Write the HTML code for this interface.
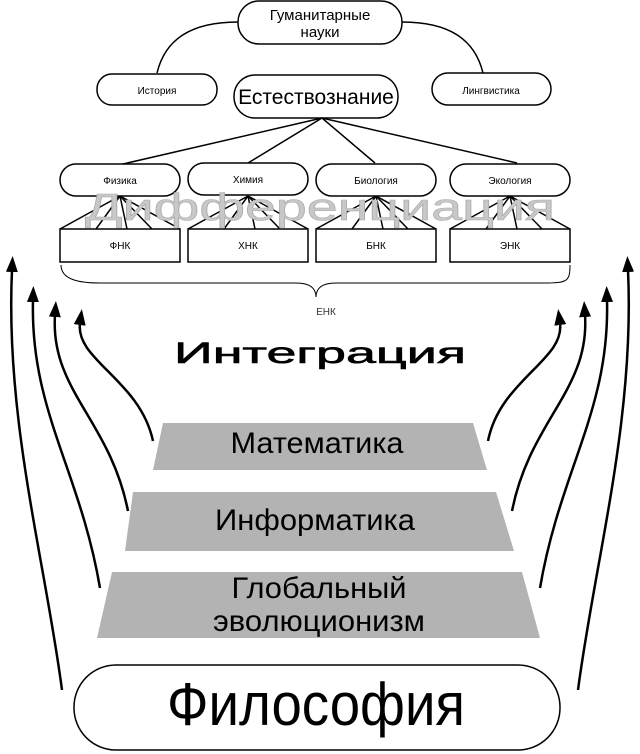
<!DOCTYPE html>
<html><head><meta charset="utf-8"><style>
body{margin:0;background:#fff}
svg{display:block;font-family:"Liberation Sans",sans-serif}
</style></head><body>
<svg width="640" height="754" viewBox="0 0 640 754" xmlns="http://www.w3.org/2000/svg">
<defs>
<marker id="a" markerWidth="16" markerHeight="16" refX="2" refY="8" orient="auto" markerUnits="userSpaceOnUse"><path d="M0,2 L16,8 L0,14 z" fill="#000"/></marker></defs>
<g fill="none" stroke="#000" stroke-width="1.5">
<path d="M238,22 C190,22 165,40 157,73"/>
<path d="M402,22 C450,22 475,40 483,73"/>
<path d="M322,118 L123,164 M322,118 L248,163 M322,118 L375,163 M322,118 L517,163"/>
<rect x="238" y="1" width="164" height="43" rx="21"/>
<rect x="97" y="74" width="120" height="31" rx="15"/>
<rect x="234" y="75" width="164" height="43" rx="21"/>
<rect x="432" y="73" width="119" height="32" rx="16"/>
<rect x="60" y="164" width="120" height="32" rx="16"/>
<rect x="188" y="163" width="120" height="32" rx="16"/>
<rect x="316" y="164" width="120" height="32" rx="16"/>
<rect x="450" y="164" width="120" height="32" rx="16"/>
<rect x="60" y="229" width="120" height="33"/>
<rect x="188" y="229" width="120" height="33"/>
<rect x="316" y="229" width="120" height="33"/>
<rect x="450" y="229" width="120" height="33"/>
<path d="M120,196 L60,229 M120,196 L96,229 M120,196 L127,229 M120,196 L152,229 M120,196 L180,229"/>
<path d="M248,196 L188,229 M248,196 L224,229 M248,196 L255,229 M248,196 L280,229 M248,196 L308,229"/>
<path d="M376,196 L316,229 M376,196 L352,229 M376,196 L383,229 M376,196 L408,229 M376,196 L436,229"/>
<path d="M510,196 L450,229 M510,196 L486,229 M510,196 L517,229 M510,196 L542,229 M510,196 L570,229"/>
<path d="M61,265 C61,280 80,283 100,283 L296,283 C310,283 316,288 316,297 C316,288 322,283 336,283 L548,283 C568,283 570,280 570,265" stroke-width="1"/>
<rect x="74" y="665" width="486" height="85" rx="42"/>
</g>
<text x="320" y="220" text-anchor="middle" font-size="38" fill="#c8c8c8" stroke="#aaa" stroke-width="0.6" textLength="470" lengthAdjust="spacingAndGlyphs">Дифференциация</text>
<g fill="none" stroke="#000" stroke-width="2.5">
<path d="M62,690 C45,560 5,420 12,270" marker-end="url(#a)"/>
<path d="M100,588 C80,470 30,410 33,300" marker-end="url(#a)"/>
<path d="M128,511 C110,420 50,390 55,315" marker-end="url(#a)"/>
<path d="M153,441 C140,380 75,360 80,323" marker-end="url(#a)"/>
<path d="M578,690 C595,560 635,420 628,270" marker-end="url(#a)"/>
<path d="M540,588 C560,470 610,410 607,300" marker-end="url(#a)"/>
<path d="M512,511 C530,420 590,390 585,315" marker-end="url(#a)"/>
<path d="M488,441 C500,380 565,360 560,323" marker-end="url(#a)"/>
</g>
<polygon points="163,423 473,423 487,470 153,470" fill="#b3b3b3"/>
<polygon points="133,492 496,492 514,551 125,551" fill="#b3b3b3"/>
<polygon points="112,572 522,572 540,638 97,638" fill="#b3b3b3"/>
<g text-anchor="middle" fill="#000">
<text x="320" y="20" font-size="15">Гуманитарные</text>
<text x="320" y="37" font-size="15">науки</text>
<text x="157" y="94" font-size="10">История</text>
<text x="316" y="104" font-size="21">Естествознание</text>
<text x="491" y="94" font-size="10">Лингвистика</text>
<text x="120" y="184" font-size="10">Физика</text>
<text x="248" y="183" font-size="10">Химия</text>
<text x="376" y="184" font-size="10">Биология</text>
<text x="510" y="184" font-size="10">Экология</text>
<text x="120" y="249" font-size="10">ФНК</text>
<text x="248" y="249" font-size="10">ХНК</text>
<text x="376" y="249" font-size="10">БНК</text>
<text x="510" y="249" font-size="10">ЭНК</text>
<text x="326" y="315" font-size="10" fill="#333">ЕНК</text>
<text x="320" y="363" font-size="30" stroke="#000" stroke-width="0.6" textLength="292" lengthAdjust="spacingAndGlyphs">Интеграция</text>
<text x="317" y="453" font-size="30" textLength="173" lengthAdjust="spacingAndGlyphs">Математика</text>
<text x="315" y="530" font-size="30" textLength="200" lengthAdjust="spacingAndGlyphs">Информатика</text>
<text x="319" y="598" font-size="30" textLength="175" lengthAdjust="spacingAndGlyphs">Глобальный</text>
<text x="319" y="631" font-size="30" textLength="212" lengthAdjust="spacingAndGlyphs">эволюционизм</text>
<text x="316" y="725" font-size="60" textLength="298" lengthAdjust="spacingAndGlyphs">Философия</text>
</g>
</svg>
</body></html>
